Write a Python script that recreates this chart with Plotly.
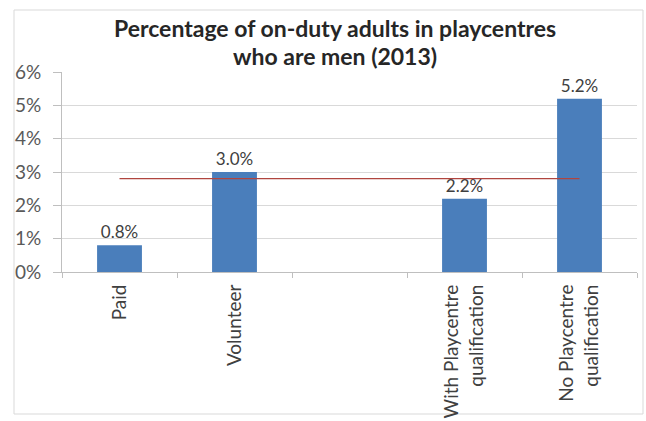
import plotly.graph_objects as go

categories = ["Paid", "Volunteer", " ", "With Playcentre<br>qualification", "No Playcentre<br>qualification"]
values = [0.008, 0.030, None, 0.022, 0.052]
labels = ["0.8%", "3.0%", "", "2.2%", "5.2%"]
line_cats = ["Paid", "No Playcentre<br>qualification"]
line_vals = [0.028, 0.028]
y_ticks = [0, 0.01, 0.02, 0.03, 0.04, 0.05, 0.06]
y_ticktext = ["0%", "1%", "2%", "3%", "4%", "5%", "6%"]
title_lines = ["Percentage of on-duty adults in playcentres", "who are men (2013)"]

FONT = "Lato, Calibri, Carlito, sans-serif"
W, H = 646, 421
L, R, T, B = 62, 9, 72, 149
PW, PH = W - L - R, H - T - B

def px_x(x):
    return (x - L) / PW

def px_y(y):
    return 1 - (y - T) / PH

fig = go.Figure()
fig.add_trace(go.Bar(
    x=categories, y=values, text=labels, textposition="outside",
    textfont=dict(family=FONT, size=17, color="#404040"),
    marker=dict(color="#4A7EBB", line=dict(width=0)),
    cliponaxis=False, hoverinfo="skip",
))
fig.add_trace(go.Scatter(
    x=line_cats, y=line_vals, mode="lines",
    line=dict(color="#B0453F", width=1.3), hoverinfo="skip",
))

fig.update_layout(
    width=W, height=H,
    margin=dict(l=L, r=R, t=T, b=B, autoexpand=False),
    paper_bgcolor="white", plot_bgcolor="white",
    showlegend=False, bargap=0.61,
    font=dict(family=FONT, color="#595959"),
    annotations=[
        dict(text="<b>" + title_lines[0] + "</b>", x=px_x(335), y=px_y(28), xref="paper", yref="paper",
             showarrow=False, font=dict(family=FONT, size=23, color="#262626"), xanchor="center", yanchor="middle"),
        dict(text="<b>" + title_lines[1] + "</b>", x=px_x(335), y=px_y(56), xref="paper", yref="paper",
             showarrow=False, font=dict(family=FONT, size=23, color="#262626"), xanchor="center", yanchor="middle"),
    ],
    shapes=[
        dict(type="rect", xref="paper", yref="paper", x0=px_x(14), x1=px_x(643), y0=px_y(414), y1=px_y(10),
             line=dict(color="#D9D9D9", width=1), fillcolor="rgba(0,0,0,0)", layer="below"),
    ],
)
fig.update_xaxes(
    type="category", categoryorder="array", categoryarray=categories,
    tickson="boundaries", ticks="outside", ticklen=5, tickcolor="#BFBFBF",
    showline=True, linecolor="#BFBFBF", linewidth=1,
    showgrid=False, tickangle=-90, automargin=False,
    tickfont=dict(family=FONT, size=19, color="#404040"),
    ticklabelstandoff=4,
    range=[-0.5, 4.5],
)
fig.update_yaxes(
    range=[0, 0.06], tickvals=y_ticks, ticktext=y_ticktext,
    ticks="outside", ticklen=8, tickcolor="#BFBFBF",
    showline=True, linecolor="#BFBFBF", linewidth=1,
    showgrid=True, gridcolor="#D9D9D9", gridwidth=1, zeroline=False,
    automargin=False,
    tickfont=dict(family=FONT, size=19, color="#595959"),
    ticklabelstandoff=8,
)
fig.write_html("out.html", config={"displayModeBar": False},
               post_script="document.body.style.margin='0px';")
